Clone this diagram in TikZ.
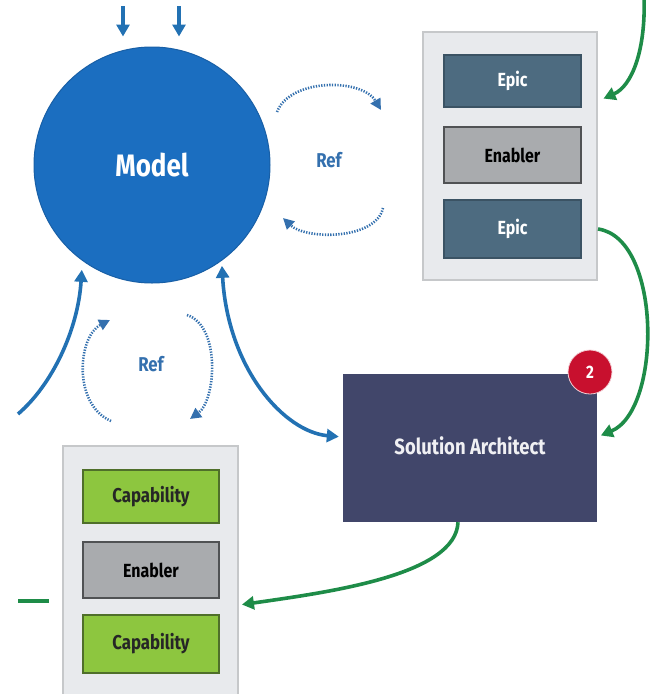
\documentclass[tikz,border=0pt]{standalone}
\usepackage{fontspec}
\setmainfont{Fira Sans}[FakeStretch=0.84]
\usetikzlibrary{arrows.meta,calc}

\definecolor{modelblue}{HTML}{1B6EC0}
\definecolor{modeledge}{HTML}{185FA6}
\definecolor{flowblue}{HTML}{2271B3}
\definecolor{refblue}{HTML}{3470AE}
\definecolor{epicfill}{HTML}{4D6B80}
\definecolor{epicedge}{HTML}{3B5364}
\definecolor{enabfill}{HTML}{A9ABAE}
\definecolor{enabedge}{HTML}{505254}
\definecolor{capfill}{HTML}{8DC63F}
\definecolor{capedge}{HTML}{4F6F2A}
\definecolor{panelfill}{HTML}{E8EAED}
\definecolor{paneledge}{HTML}{C6C8CA}
\definecolor{safill}{HTML}{41466A}
\definecolor{badgered}{HTML}{C8102E}
\definecolor{flowgreen}{HTML}{1E8C48}

\tikzset{
  panel/.style={draw=paneledge, fill=panelfill, line width=2pt, inner sep=0pt},
  item/.style={line width=1.2pt, minimum width=137pt, inner sep=0pt, font=\bfseries\fontsize{19}{22}\selectfont},
  epicbox/.style={item, draw=epicedge, fill=epicfill, text=white},
  enabbox/.style={item, draw=enabedge, fill=enabfill, text=black},
  capbox/.style={item, draw=capedge, fill=capfill, text=black!85, minimum width=136pt, font=\bfseries\fontsize{20}{23}\selectfont},
  bflow/.style={draw=flowblue, line width=3.6pt, -{Triangle[length=12pt,width=13pt]}},
  gflow/.style={draw=flowgreen, line width=3.6pt, -{Triangle[length=12pt,width=13pt]}},
  refflow/.style={draw=refblue, line width=2.6pt, dash pattern=on 1.3pt off 1.4pt,
    -{Triangle[length=11pt,width=11pt]}},
  reflabel/.style={text=refblue, font=\bfseries\fontsize{20}{23}\selectfont},
}

\begin{document}
\begin{tikzpicture}[x=1pt,y=-1pt]
\useasboundingbox (0,0) rectangle (656,694);

% central model
\node[circle, fill=modelblue, draw=modeledge, line width=1pt, minimum size=236pt,
      inner sep=0pt, text=white, font=\bfseries\fontsize{31}{34}\selectfont]
      (model) at (152,165) {Model};

% epic / enabler column (upper right)
\node[panel, minimum width=174pt, minimum height=248pt] (panR) at (510,156) {};
\node[epicbox, minimum height=52pt] (epic1) at (512.5,81) {Epic};
\node[enabbox, minimum height=56pt] (enab1) at (512.5,155) {Enabler};
\node[epicbox, minimum height=58pt] (epic2) at (512.5,229) {Epic};

% capability / enabler column (lower left)
\node[panel, minimum width=175pt, minimum height=250pt] (panL) at (150.5,571) {};
\node[capbox, minimum height=53pt] (cap1) at (151,496.5) {Capability};
\node[enabbox, minimum width=136pt, minimum height=56pt] (enab2) at (151,570) {Enabler};
\node[capbox, minimum height=58pt] (cap2) at (151,644) {Capability};

% solution architect with step badge
\node[fill=safill, minimum width=254pt, minimum height=148pt, inner sep=0pt,
      text=white!92!safill, font=\bfseries\fontsize{22}{25}\selectfont]
      (sa) at (470,448) {\raisebox{5pt}{Solution Architect}};
\node[circle, fill=badgered, draw=white!80!badgered, line width=0.8pt, minimum size=44pt,
      inner sep=0pt, text=white, font=\bfseries\fontsize{18}{20}\selectfont]
      (badge) at (590,372) {2};

% incoming flows to the model
\coordinate (inA) at (123,6);
\coordinate (inB) at (179,6);
\draw[bflow, shorten >=10pt] (inA) -- (inA |- model.north);
\draw[bflow, shorten >=10pt] (inB) -- (inB |- model.north);

\coordinate (inL) at (18,414);
\draw[bflow, shorten >=9pt] (inL) .. controls (52,385) and (78,330) .. (model.234);

% model <-> solution architect
\draw[bflow, {Triangle[length=12pt,width=13pt]}-{Triangle[length=12pt,width=13pt]},
      shorten <=5pt, shorten >=4pt]
      (model.-54) .. controls (228,370) and (285,432) .. (sa.west |- 0,437);

% reference loops, model <-> epics
\coordinate (r1a) at (277,112);
\coordinate (r1b) at (381,110);
\coordinate (r2a) at (383,208);
\coordinate (r2b) at (283,218);
\draw[refflow] (r1a) .. controls (290,78) and (362,78) .. (r1b);
\draw[refflow] (r2a) .. controls (376,240) and (306,240) .. (r2b);
\node[reflabel] (ref1) at (329,160) {Ref};

% reference loops, model <-> capabilities
\coordinate (r3a) at (111,421);
\coordinate (r3b) at (110,320);
\coordinate (r4a) at (187,315);
\coordinate (r4b) at (190,419);
\draw[refflow] (r3a) .. controls (72,404) and (78,336) .. (r3b);
\draw[refflow] (r4a) .. controls (221,326) and (216,400) .. (r4b);
\node[reflabel] (ref2) at (151,364) {Ref};

% green work flow
\coordinate (gTop) at (644,-4);
\draw[gflow, shorten >=6pt] (gTop) .. controls (646,50) and (632,86) .. (panR.east |- 0,101);
\draw[gflow, shorten >=4pt] (panR.east |- epic2.east) .. controls (662,238) and (662,410) .. (sa.east |- 0,437);
\draw[gflow, shorten >=3pt] (sa.south -| 458,0) .. controls (456,575) and (330,592) .. (panL.east |- 0,605);
\coordinate (gL) at (18,601);
\draw[flowgreen, line width=3.6pt, shorten >=13pt] (gL) -- (panL.west |- gL);
\end{tikzpicture}
\end{document}
